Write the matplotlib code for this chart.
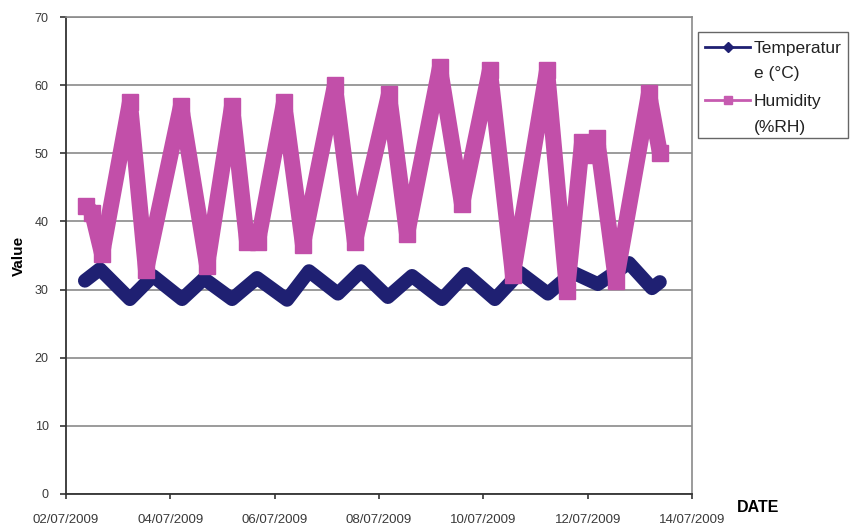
import matplotlib
matplotlib.use("Agg")
import matplotlib.pyplot as plt
import matplotlib.dates as mdates
from matplotlib.lines import Line2D
from matplotlib.patches import Rectangle
import pandas as pd

plt.rcParams["font.family"] = ["Liberation Sans", "DejaVu Sans"]

# ---- data (hours since 02/07/2009 00:00) ----
temp_hours = [8.7, 15.6, 29.4, 40.0, 53.4, 63.5, 76.4, 87.9, 101.7, 111.8, 125.1, 135.7,
              148.1, 159.2, 173.0, 184.0, 197.3, 208.8, 221.7, 233.2, 244.7, 259.0, 269.6, 273.2]
temp_values = [31.3, 33.0, 28.6, 32.0, 28.6, 31.6, 28.6, 31.7, 28.5, 32.7, 29.4, 32.7,
               28.9, 32.0, 28.6, 32.3, 28.6, 32.5, 29.4, 32.5, 30.8, 33.9, 30.2, 31.1]

hum_hours = [9.2, 12.0, 16.6, 29.4, 36.8, 52.9, 64.9, 76.4, 83.3, 88.3, 100.3, 109.0,
             123.7, 132.9, 148.6, 156.9, 172.0, 182.2, 195.0, 205.6, 221.3, 230.5,
             237.4, 240.6, 244.3, 253.0, 268.2, 273.2]
hum_values = [42.3, 41.3, 35.2, 57.5, 32.8, 57.0, 33.5, 57.0, 37.0, 37.0, 57.5, 36.6,
              60.0, 37.0, 58.7, 38.1, 62.6, 42.5, 62.2, 32.2, 62.2, 29.8,
              51.6, 49.8, 52.3, 31.3, 58.8, 50.1]

series_labels = ["Temperatur\ne (°C)", "Humidity\n(%RH)"]
x_start = "2009-07-02"
x_end = "2009-07-14"
y_ticks = [0, 10, 20, 30, 40, 50, 60, 70]

NAVY = "#1f2072"
PINK = "#c24fa9"
W, H = 851, 526

start = pd.Timestamp(x_start)
temp_t = start + pd.to_timedelta(temp_hours, unit="h")
hum_t = start + pd.to_timedelta(hum_hours, unit="h")

fig = plt.figure(figsize=(W / 100, H / 100), dpi=100)
ax = fig.add_axes([66 / W, 1 - 494 / H, 626 / W, 477 / H])

ax.plot(temp_t, temp_values, color=NAVY, lw=10, solid_joinstyle="round",
        solid_capstyle="round", zorder=3)
ax.plot(hum_t, hum_values, color=PINK, lw=11.5, solid_joinstyle="bevel",
        solid_capstyle="butt", marker="s", ms=11.5, mec=PINK, mfc=PINK, zorder=4)

ax.set_xlim(pd.Timestamp(x_start), pd.Timestamp(x_end))
ax.set_ylim(0, 70)
ax.set_yticks(y_ticks)
ax.yaxis.grid(True, color="#8a8a8a", lw=1.2)
ax.set_axisbelow(True)

ax.xaxis.set_major_locator(mdates.DayLocator(interval=2))
ax.xaxis.set_major_formatter(mdates.DateFormatter("%d/%m/%Y"))

for s in ["left", "bottom"]:
    ax.spines[s].set_color("#333333")
    ax.spines[s].set_linewidth(1.3)
for s in ["right", "top"]:
    ax.spines[s].set_color("#8a8a8a")
    ax.spines[s].set_linewidth(1.2)

ax.tick_params(axis="y", direction="out", length=4.5, width=1.2, color="#333333",
               labelsize=9, labelcolor="#3a3a3a", pad=8)
ax.tick_params(axis="x", direction="out", length=3.5, width=1.2, color="#333333",
               labelsize=9.5, labelcolor="#3a3a3a", pad=11)

ax.set_ylabel("Value", fontsize=11, fontweight="bold", labelpad=6)
fig.text(758 / W, 1 - 508 / H, "DATE", fontsize=11.5, fontweight="bold",
         ha="center", va="center")

# ---- legend (drawn like the spreadsheet legend) ----
def fx(px):
    return px / W

def fy(py):
    return 1 - py / H

fig.add_artist(Rectangle((fx(698), fy(138)), fx(848) - fx(698), fy(32) - fy(138),
                         transform=fig.transFigure, facecolor="white",
                         edgecolor="#666666", lw=1.0))
legend_rows = [(47, 72, NAVY, "D", 5), (100, 126, "#c65bb0", "s", 6)]
for (y1, y2, col, mk, ms), lab in zip(legend_rows, series_labels):
    fig.add_artist(Line2D([fx(705), fx(750)], [fy(y1), fy(y1)], transform=fig.transFigure,
                          color=col, lw=2))
    fig.add_artist(Line2D([fx(727.5)], [fy(y1)], transform=fig.transFigure,
                          color=col, marker=mk, ms=ms, mfc=col, mec=col))
    first, second = lab.split("\n")
    fig.text(fx(754), fy(y1), first, fontsize=12.5, ha="left", va="center_baseline",
             color="#222222")
    fig.text(fx(754), fy(y2), second, fontsize=12.5, ha="left", va="center_baseline",
             color="#222222")

fig.savefig("out.png", dpi=100)
